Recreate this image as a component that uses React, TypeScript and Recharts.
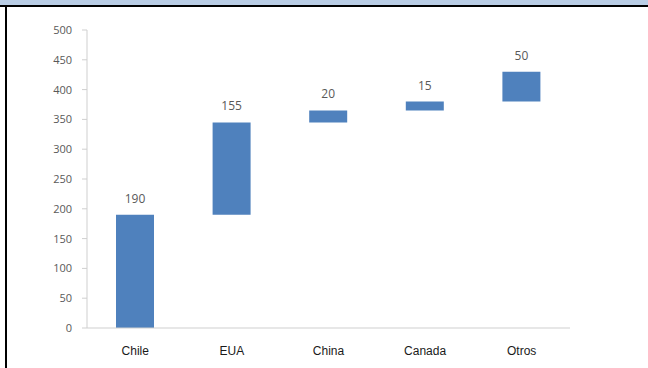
import { BarChart, Bar, XAxis, YAxis, LabelList } from 'recharts';

const categories = ['Chile', 'EUA', 'China', 'Canada', 'Otros'];
const baseValues = [0, 190, 345, 365, 380];
const deltaValues = [190, 155, 20, 15, 50];
const yTicks = [0, 50, 100, 150, 200, 250, 300, 350, 400, 450, 500];
const boundaryTicks = [0, 1, 2, 3, 4, 5];

const data = categories.map((name, i) => ({
  name,
  base: baseValues[i],
  delta: deltaValues[i],
}));

const axisGrey = '#cfcfcf';
const textGrey = '#595959';

export default function App() {
  return (
    <div
      style={{
        position: 'fixed',
        top: 0,
        left: 0,
        width: 648,
        height: 368,
        background: '#fff',
        overflow: 'hidden',
      }}
    >
      <div style={{ position: 'absolute', top: 0, left: 0, width: 648, height: 5, background: '#b9cde5' }} />
      <div style={{ position: 'absolute', top: 5, left: 0, width: 648, height: 2, background: '#000' }} />
      <div style={{ position: 'absolute', top: 5, left: 5, width: 2, height: 363, background: '#000' }} />
      <div style={{ position: 'absolute', top: 0, left: 0 }}>
        <BarChart
          width={648}
          height={368}
          data={data}
          margin={{ top: 30, right: 78, bottom: 10, left: 37 }}
          barSize={38}
        >
          <XAxis
            xAxisId="aEdges"
            type="number"
            dataKey="edge"
            domain={[0, 5]}
            ticks={boundaryTicks}
            allowDataOverflow
            tick={false}
            height={1}
            tickSize={5}
            stroke={axisGrey}
          />
          <XAxis
            dataKey="name"
            xAxisId="zCat"
            axisLine={false}
            tickLine={false}
            height={29}
            tickMargin={11}
            tick={{ fontSize: 12, fill: '#1a1a1a', fontFamily: 'Liberation Sans, Arial, sans-serif' }}
          />
          <YAxis
            domain={[0, 500]}
            ticks={yTicks}
            width={50}
            tickSize={5}
            tickMargin={10}
            stroke={axisGrey}
            tick={{ fontSize: 11, fill: textGrey, fontFamily: 'Open Sans, sans-serif' }}
          />
          <Bar dataKey="base" stackId="w" xAxisId="zCat" fill="transparent" isAnimationActive={false} />
          <Bar dataKey="delta" stackId="w" xAxisId="zCat" fill="#4f81bd" isAnimationActive={false}>
            <LabelList
              dataKey="delta"
              position="top"
              offset={12}
              style={{ fontSize: 12, fill: textGrey, fontFamily: 'Open Sans, sans-serif' }}
            />
          </Bar>
        </BarChart>
      </div>
    </div>
  );
}
